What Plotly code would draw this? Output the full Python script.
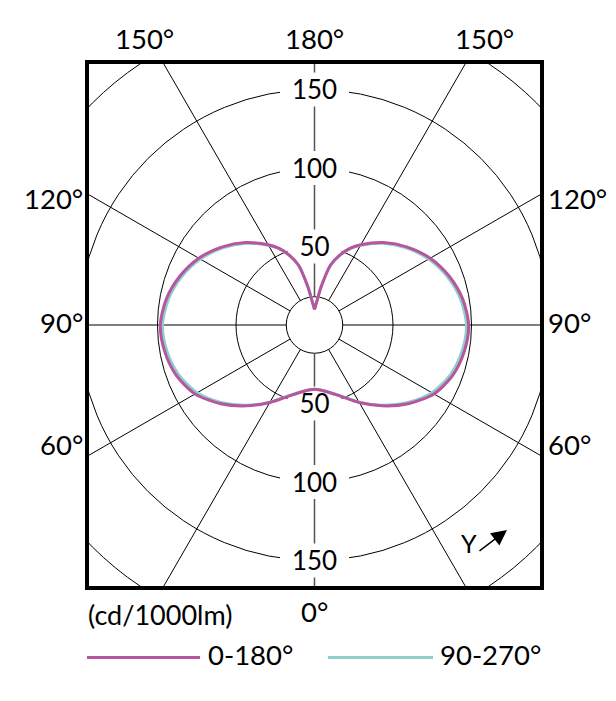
import numpy as np
import plotly.graph_objects as go

# luminous intensity (cd/1000lm), angle measured from nadir (0 deg at bottom)
angles = [0, 10, 20, 30, 40, 50, 60, 70, 80, 90, 100, 110, 120, 130, 140,
          150, 155, 160, 165, 170, 175, 180]
plane_0_180 = [41, 43, 48.2, 57, 67.2, 78, 87.8, 93.7, 96.9, 98.2, 95.8, 91.2,
               85.1, 77.2, 68.5, 59, 54, 47.5, 39.6, 25, 14.3, 10]
plane_90_270 = [41, 43, 48, 56.7, 66.7, 77, 86.3, 92.2, 95.5, 96.8, 94.5, 90,
                84, 76.4, 68, 58.6, 53.6, 47.2, 39.4, 25, 14.3, 10]

rings = [50, 100, 150, 200]
ring_labels = [50, 100, 150]
spoke_angles = list(range(0, 360, 30))
hole = 18

top_labels = ["150°", "180°", "150°"]
side_labels = ["120°", "90°", "60°"]

series = [("90-270°", plane_90_270, "#8ccfcb"), ("0-180°", plane_0_180, "#b7559f")]

FONT = "Lato"
k = 1.57  # px per cd

# pixel -> paper helpers (plot box is 87..542 x 62..588 in the reference)
def px(x):
    return (x - 87) / 455


def py(y):
    return (588 - y) / 526


def to_xy(th, r):
    t = np.radians(np.array(th, dtype=float))
    r = np.array(r, dtype=float)
    x_right = r * np.sin(t)
    y_right = -r * np.cos(t)
    x = np.concatenate([x_right, -x_right[::-1]])
    y = np.concatenate([y_right, y_right[::-1]])
    return x, y


fig = go.Figure()

# grid circles
for r in rings + [hole]:
    fig.add_shape(type="circle", xref="x", yref="y", x0=-r, x1=r, y0=-r, y1=r,
                  line=dict(color="black", width=1), layer="below")

# spokes
for a in spoke_angles:
    t = np.radians(a)
    grey = a in (0, 180)
    fig.add_shape(type="line", xref="x", yref="y",
                  x0=hole * np.sin(t), y0=-hole * np.cos(t),
                  x1=300 * np.sin(t), y1=-300 * np.cos(t),
                  line=dict(color="#555" if grey else "black", width=1.5 if grey else 1),
                  layer="below")

# white gaps behind the ring values (below the curves)
lab_y = []
for v in ring_labels:
    for s in (1, -1):
        lab_y.append(s * v)
        hw = (12 + 7.5 * len(str(v))) / k
        fig.add_shape(type="rect", xref="x", yref="y", x0=-hw, x1=hw,
                      y0=s * v - 17 / k, y1=s * v + 17 / k,
                      fillcolor="white", line=dict(width=0), layer="below")

fig.add_trace(go.Scatter(x=[0] * len(lab_y), y=[v - 3 / k for v in lab_y], mode="text",
                         text=[str(abs(v)) for v in lab_y], textposition="middle center",
                         textfont=dict(size=26, color="black", family=FONT),
                         hoverinfo="skip"))

for name, vals, col in series:
    x, y = to_xy(angles, vals)
    fig.add_trace(go.Scatter(x=x, y=y, mode="lines", name=name,
                             line=dict(color=col, width=3, shape="spline", smoothing=0.8),
                             hoverinfo="skip"))

# frame
fig.add_shape(type="rect", xref="paper", yref="paper", x0=0, x1=1, y0=0, y1=1,
              line=dict(color="black", width=4), layer="above")

ann = []
for xp, t in zip([144.5, 314, 484.5], top_labels):
    ann.append(dict(x=px(xp), y=py(38), text=t, showarrow=False, xanchor="center",
                    yanchor="middle", font=dict(size=27.5, color="black", family=FONT)))

for yp, t in zip([199, 322, 444], side_labels):
    ann.append(dict(x=px(85), y=py(yp), text=t, showarrow=False, xanchor="right",
                    yanchor="middle", font=dict(size=27.5, color="black", family=FONT)))
    ann.append(dict(x=px(546), y=py(yp), text=t, showarrow=False, xanchor="left",
                    yanchor="middle", font=dict(size=27.5, color="black", family=FONT)))

ann.append(dict(x=px(314), y=py(611), text="0°", showarrow=False, xanchor="center",
                yanchor="middle", font=dict(size=27.5, color="black", family=FONT)))
ann.append(dict(x=px(86), y=py(614), text="(cd/1000lm)", showarrow=False, xanchor="left",
                yanchor="middle", font=dict(size=27, color="black", family=FONT)))

# Y direction marker
ann.append(dict(x=px(469), y=py(543), text="Y", showarrow=False, xanchor="center",
                yanchor="middle", font=dict(size=25, color="black", family=FONT)))
ann.append(dict(x=px(507), y=py(530), ax=-29, ay=22, text="", showarrow=True,
                arrowhead=2, arrowsize=2.2, arrowwidth=1.4, arrowcolor="black",
                xref="paper", yref="paper", standoff=0))

# legend drawn by hand
legend_pos = {"0-180°": (87, 200, 206), "90-270°": (328, 433, 438)}
for name, vals, col in series:
    x0, x1, xt = legend_pos[name]
    fig.add_shape(type="line", xref="paper", yref="paper", x0=px(x0), x1=px(x1),
                  y0=py(657.5), y1=py(657.5), line=dict(color=col, width=3))
    ann.append(dict(x=px(xt), y=py(654), text=name, showarrow=False, xanchor="left",
                    yanchor="middle", font=dict(size=27.5, color="black", family=FONT)))

for a in ann:
    a.setdefault("xref", "paper")
    a.setdefault("yref", "paper")
fig.update_layout(annotations=ann)

# page body adds an 8px margin, so the figure is 8px smaller and shifted
fig.update_layout(
    width=608, height=693,
    margin=dict(l=79, r=74, t=54, b=113),
    plot_bgcolor="white", paper_bgcolor="white",
    showlegend=False,
    xaxis=dict(range=[-227.5 / k, 227.5 / k], visible=False, fixedrange=True),
    yaxis=dict(range=[-263 / k, 263 / k], visible=False, fixedrange=True),
)

fig.write_html("out.html")
